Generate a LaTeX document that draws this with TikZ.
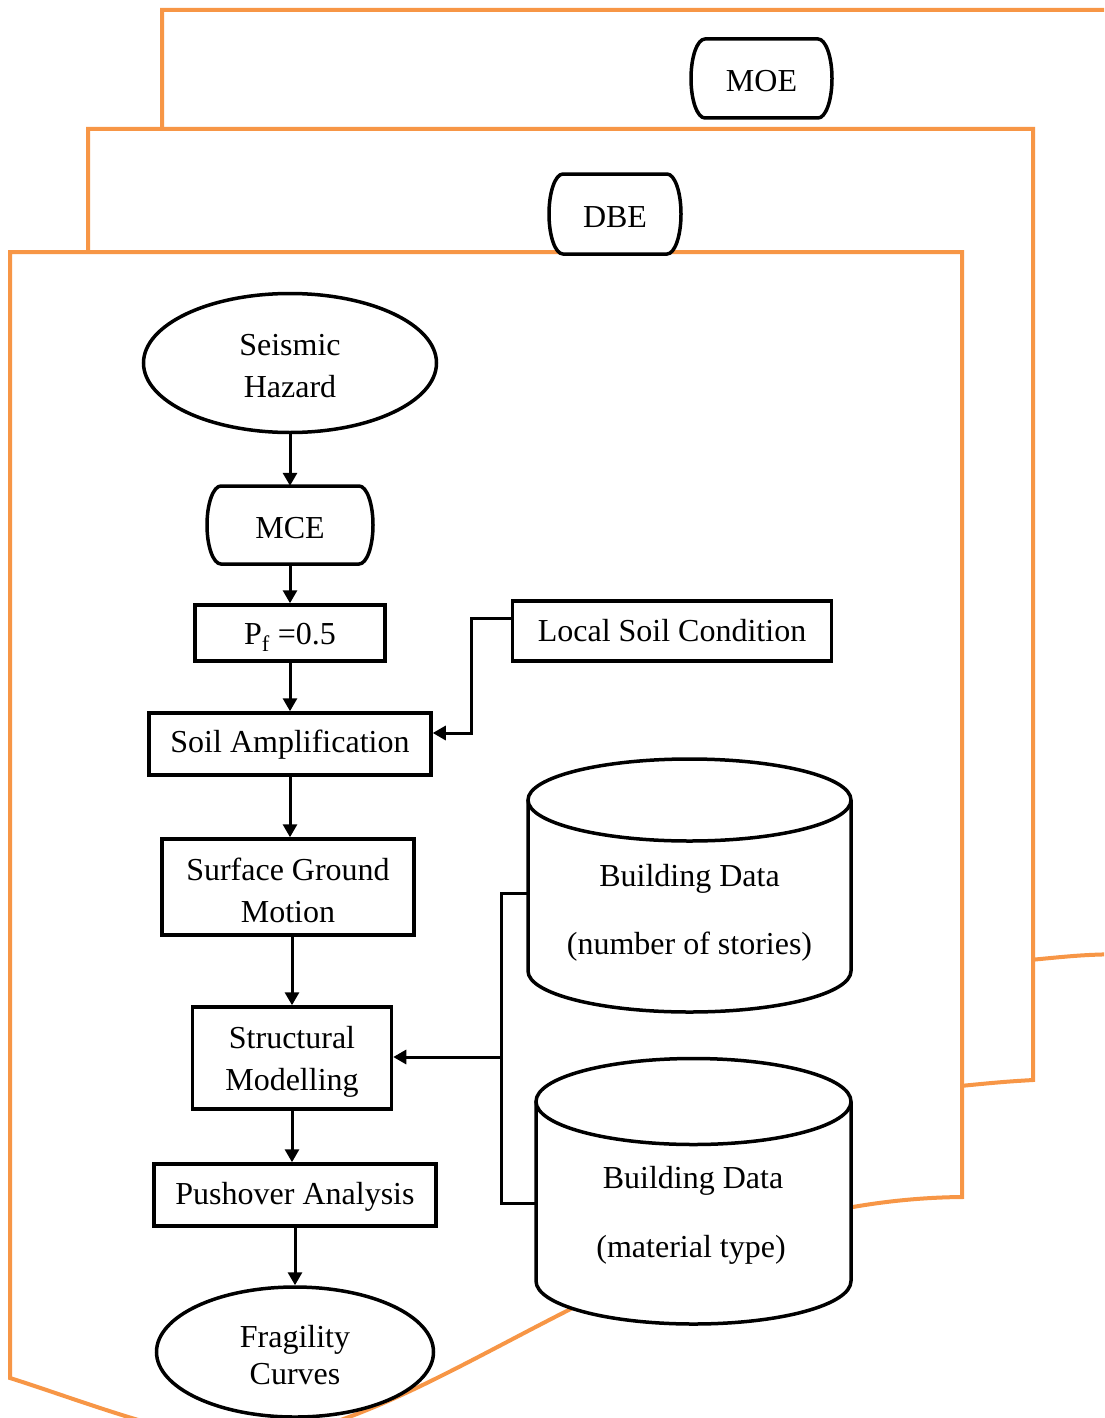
\documentclass[tikz,border=0pt]{standalone}
\usepackage{fontspec}
\setmainfont{Liberation Serif}
\usetikzlibrary{arrows.meta,shapes.geometric}
\definecolor{orng}{HTML}{F79646}
\newcommand\stadium[5]{%
  \draw[line width=3.5pt,fill=white]
    (#1-#3/2+#5,#2-#4/2) -- (#1+#3/2-#5,#2-#4/2)
    arc[start angle=-90,end angle=90,x radius=#5,y radius=#4/2]
    -- (#1-#3/2+#5,#2+#4/2)
    arc[start angle=90,end angle=270,x radius=#5,y radius=#4/2] -- cycle;}
\begin{document}
\begin{tikzpicture}[x=1pt,y=-1pt,
  frame/.style={draw=orng,line width=4pt,fill=white,line join=miter},
  lab/.style={inner sep=0pt,font=\fontsize{32}{42}\selectfont,align=center,yshift=-3pt},
  box/.style={draw,line width=3.5pt,fill=white,rectangle,inner sep=0pt},
  term/.style={rectangle,inner sep=0pt},
  oval/.style={draw,line width=3.5pt,fill=white,ellipse,inner sep=0pt},
  txt/.style={inner sep=0pt,font=\fontsize{32}{42}\selectfont},
  conn/.style={line width=3pt,-{Triangle[length=13pt,width=14pt]}},
  plain/.style={line width=3pt,line join=miter},
  cyl/.style={draw,line width=3.5pt,fill=white}]
\useasboundingbox (0,0) rectangle (1104,1418);
\clip (0,0) rectangle (1104,1418);
% stacked frames
\draw[frame] (162,10) -- (1120,10) -- (1120,954) .. controls (1080,955) .. (1000,963) -- (162,963) -- cycle;
\draw[frame] (88,129) -- (1033,129) -- (1033,1080) .. controls (1000,1082) .. (900,1092) -- (88,1092) -- cycle;
\draw[frame] (10,252) -- (962,252) -- (962,1197) .. controls (650,1200) and (450,1420) .. (250,1442)
  .. controls (180,1440) and (80,1400) .. (10,1378) -- cycle;
% terminals
\stadium{761.5}{78.5}{141}{79}{14}
\node[term, minimum width=141pt, minimum height=79pt,
  label={[lab]center:MOE}] (moe) at (761.5,78.5) {};
\stadium{615}{214}{132}{80}{14}
\node[term, minimum width=132pt, minimum height=80pt,
  label={[lab]center:DBE}] (dbe) at (615,214) {};
% main chain
\node[oval, minimum width=293pt, minimum height=139pt,
  label={[lab]center:Seismic\\Hazard}] (sh) at (290,363) {};
\stadium{290}{525}{166}{78}{14}
\node[term, minimum width=166pt, minimum height=78pt,
  label={[lab]center:MCE}] (mce) at (290,525) {};
\node[box, minimum width=190pt, minimum height=56pt,
  label={[lab,yshift=-1pt]center:P\textsubscript{f} =0.5}] (pf) at (290,633) {};
\node[box, minimum width=319pt, minimum height=60pt,
  label={[lab,yshift=3pt]center:Local Soil Condition}] (lsc) at (672,631) {};
\node[box, minimum width=282pt, minimum height=62pt,
  label={[lab,yshift=2pt]center:Soil Amplification}] (sa) at (290,744) {};
\node[box, minimum width=252pt, minimum height=96pt,
  label={[lab]center:Surface Ground\\Motion}] (sgm) at (288,887) {};
\node[box, minimum width=199pt, minimum height=102pt,
  label={[lab,yshift=-1pt]center:Structural\\Modelling}] (sm) at (292,1058) {};
\node[box, minimum width=282pt, minimum height=62pt,
  label={[lab,yshift=1pt]center:Pushover Analysis}] (pa) at (295,1195) {};
\node[oval, minimum width=277pt, minimum height=130pt,
  label={[lab]center:Fragility\\[-5pt]Curves}] (fc) at (295,1352) {};
% cylinders
\draw[cyl] (528,800) -- (528,971) arc[start angle=180,end angle=0,x radius=161.5,y radius=41] -- (851,800);
\draw[cyl] (689.5,800) ellipse [x radius=161.5,y radius=41];
\draw[cyl] (536,1101.5) -- (536,1281) arc[start angle=180,end angle=0,x radius=157.5,y radius=43] -- (851,1101.5);
\draw[cyl] (693.5,1101.5) ellipse [x radius=157.5,y radius=43];
\node[txt] (bd1t) at (689.5,879) {Building Data};
\node[txt] (bd1s) at (689.5,947) {(number of stories)};
\node[txt] (bd2t) at (693,1181) {Building Data};
\node[txt] (bd2s) at (691,1250) {(material type)};
\coordinate (c1w) at (528,893);
\coordinate (c2w) at (536,1203);
\coordinate (br) at (501,1057);
% connectors
\draw[conn] (sh.south) -- (mce.north);
\draw[conn] (mce.south) -- (pf.north);
\draw[conn] (pf.south) -- (sa.north);
\draw[conn,line join=miter] ([yshift=13pt]lsc.west) -- ++(-39,0) |- ([yshift=11pt]sa.east);
\draw[conn] (sa.south) -- (sa.south |- sgm.north);
\draw[conn] (sm.north |- sgm.south) -- (sm.north);
\draw[conn] (sm.south) -- (sm.south |- pa.north);
\draw[conn] (pa.south) -- (fc.north);
\draw[plain] (c1w) -| (br) |- (c2w);
\draw[conn] (br) -- (sm.east |- br);
\end{tikzpicture}
\end{document}
